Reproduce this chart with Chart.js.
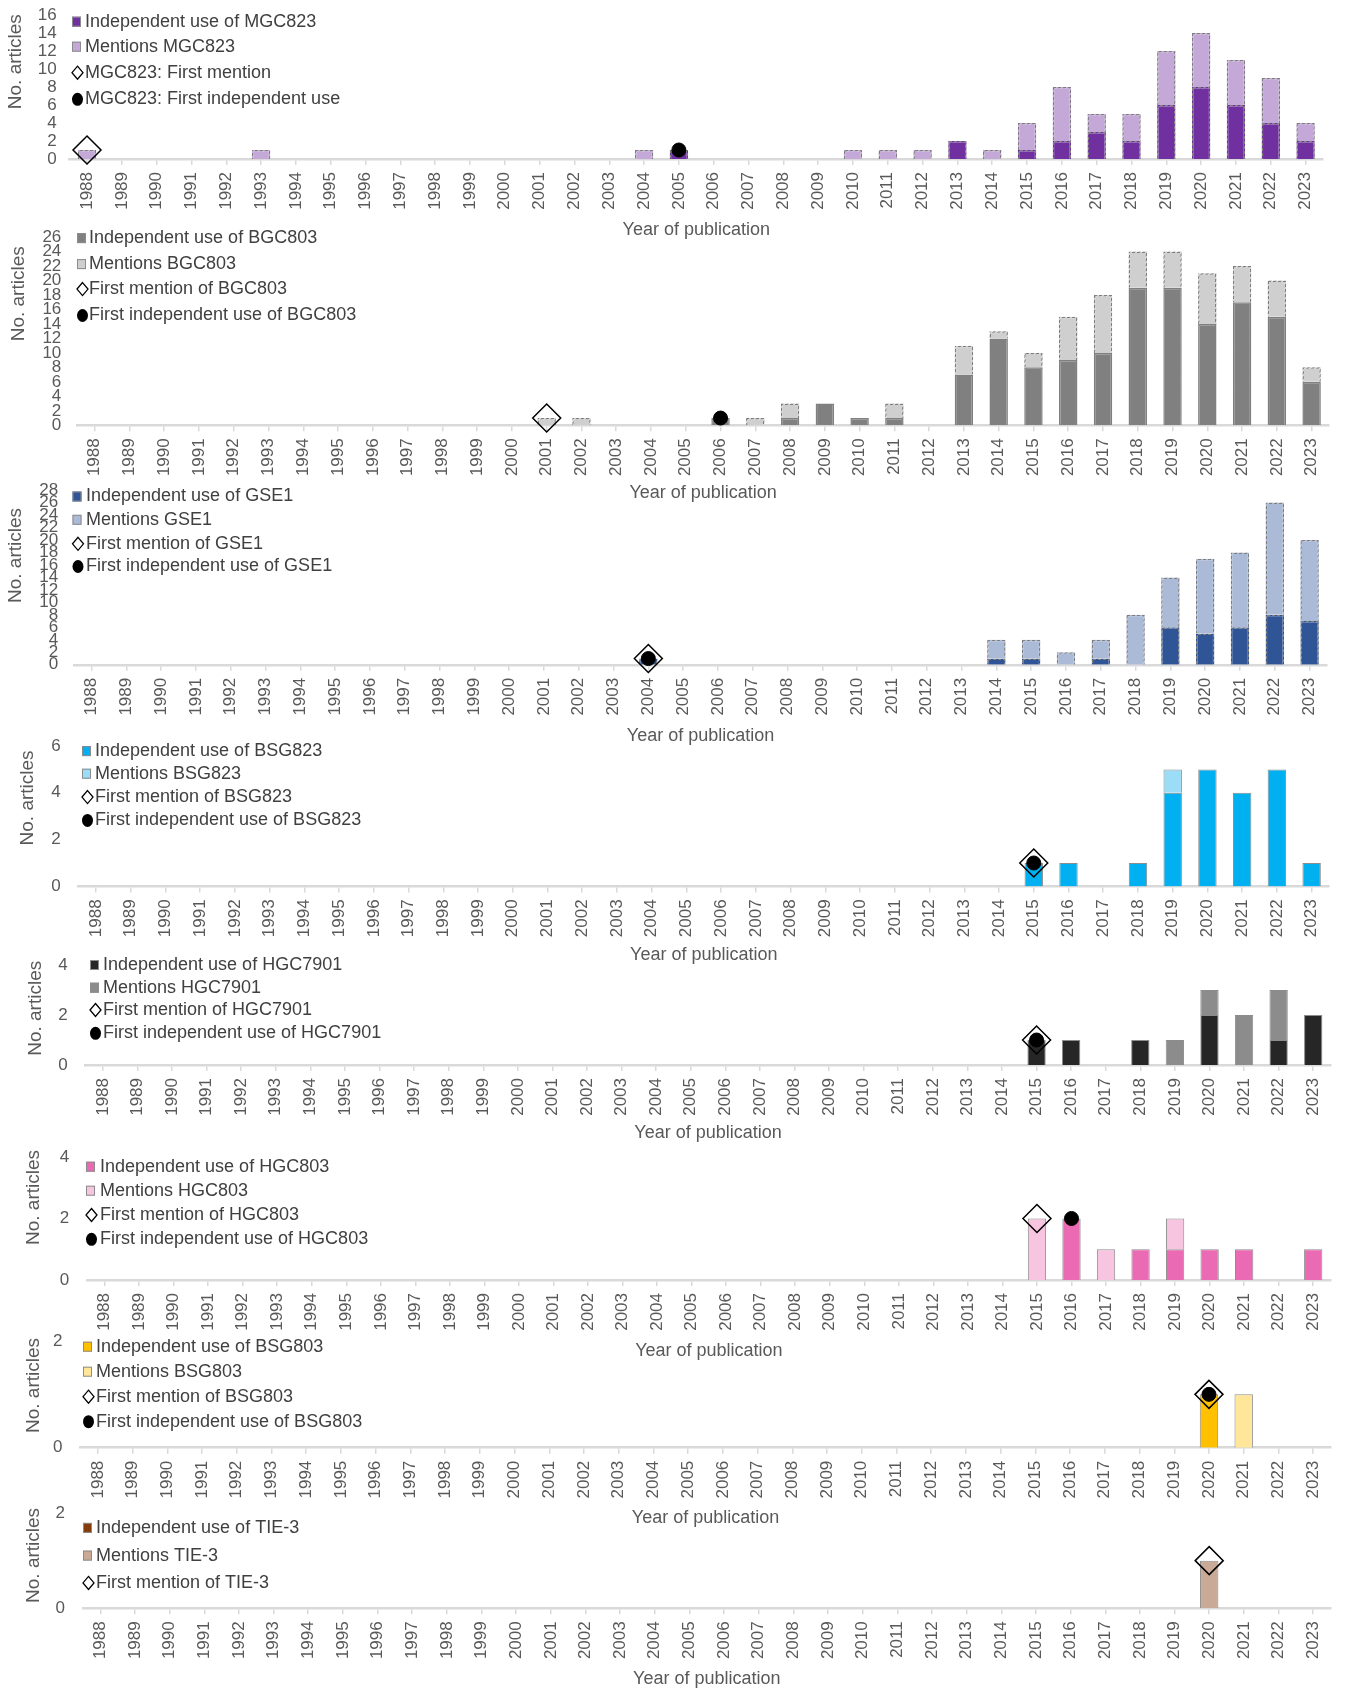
<!DOCTYPE html>
<html>
<head>
<meta charset="utf-8">
<script src="https://cdn.jsdelivr.net/npm/chart.js@4.4.1/dist/chart.umd.min.js"></script>
<style>
  html, body { margin: 0; padding: 0; background: #fff; }
  body { width: 1346px; height: 1690px; position: relative; overflow: hidden; }
  canvas { position: absolute; left: 0; }
</style>
</head>
<body>
<script>
// categories
const years = ['1988','1989','1990','1991','1992','1993','1994','1995','1996','1997','1998','1999',
  '2000','2001','2002','2003','2004','2005','2006','2007','2008','2009','2010','2011',
  '2012','2013','2014','2015','2016','2017','2018','2019','2020','2021','2022','2023'];

// MGC823
const mgcInd = [0,0,0,0,0,0,0,0,0,0,0,0, 0,0,0,0,0,1,0,0,0,0,0,0,0,2,0,1,2,3,2,6,8,6,4,2];
const mgcMen = [1,0,0,0,0,1,0,0,0,0,0,0, 0,0,0,0,1,0,0,0,0,0,1,1,1,0,1,3,6,2,3,6,6,5,5,2];
const mgcFirstMention = [{x: '1988', y: 1}];
const mgcFirstUse = [{x: '2005', y: 1}];

// BGC803
const bgcInd = [0,0,0,0,0,0,0,0,0,0,0,0, 0,0,0,0,0,0,1,0,1,3,1,1,0,7,12,8,9,10,19,19,14,17,15,6];
const bgcMen = [0,0,0,0,0,0,0,0,0,0,0,0, 0,1,1,0,0,0,0,1,2,0,0,2,0,4,1,2,6,8,5,5,7,5,5,2];
const bgcFirstMention = [{x: '2001', y: 1}];
const bgcFirstUse = [{x: '2006', y: 1}];

// GSE1
const gseInd = [0,0,0,0,0,0,0,0,0,0,0,0, 0,0,0,0,1,0,0,0,0,0,0,0,0,0,1,1,0,1,0,6,5,6,8,7];
const gseMen = [0,0,0,0,0,0,0,0,0,0,0,0, 0,0,0,0,0,0,0,0,0,0,0,0,0,0,3,3,2,3,8,8,12,12,18,13];
const gseFirstMention = [{x: '2004', y: 1}];
const gseFirstUse = [{x: '2004', y: 1}];

// BSG823
const bsg823Ind = [0,0,0,0,0,0,0,0,0,0,0,0, 0,0,0,0,0,0,0,0,0,0,0,0,0,0,0,1,1,0,1,4,5,4,5,1];
const bsg823Men = [0,0,0,0,0,0,0,0,0,0,0,0, 0,0,0,0,0,0,0,0,0,0,0,0,0,0,0,0,0,0,0,1,0,0,0,0];
const bsg823FirstMention = [{x: '2015', y: 1}];
const bsg823FirstUse = [{x: '2015', y: 1}];

// HGC7901
const hgc7901Ind = [0,0,0,0,0,0,0,0,0,0,0,0, 0,0,0,0,0,0,0,0,0,0,0,0,0,0,0,1,1,0,1,0,2,0,1,2];
const hgc7901Men = [0,0,0,0,0,0,0,0,0,0,0,0, 0,0,0,0,0,0,0,0,0,0,0,0,0,0,0,0,0,0,0,1,1,2,2,0];
const hgc7901FirstMention = [{x: '2015', y: 1}];
const hgc7901FirstUse = [{x: '2015', y: 1}];

// HGC803
const hgc803Ind = [0,0,0,0,0,0,0,0,0,0,0,0, 0,0,0,0,0,0,0,0,0,0,0,0,0,0,0,0,2,0,1,1,1,1,0,1];
const hgc803Men = [0,0,0,0,0,0,0,0,0,0,0,0, 0,0,0,0,0,0,0,0,0,0,0,0,0,0,0,2,0,1,0,1,0,0,0,0];
const hgc803FirstMention = [{x: '2015', y: 2}];
const hgc803FirstUse = [{x: '2016', y: 2}];

// BSG803
const bsg803Ind = [0,0,0,0,0,0,0,0,0,0,0,0, 0,0,0,0,0,0,0,0,0,0,0,0,0,0,0,0,0,0,0,0,1,0,0,0];
const bsg803Men = [0,0,0,0,0,0,0,0,0,0,0,0, 0,0,0,0,0,0,0,0,0,0,0,0,0,0,0,0,0,0,0,0,0,1,0,0];
const bsg803FirstMention = [{x: '2020', y: 1}];
const bsg803FirstUse = [{x: '2020', y: 1}];

// TIE-3
const tieInd = [0,0,0,0,0,0,0,0,0,0,0,0, 0,0,0,0,0,0,0,0,0,0,0,0,0,0,0,0,0,0,0,0,0,0,0,0];
const tieMen = [0,0,0,0,0,0,0,0,0,0,0,0, 0,0,0,0,0,0,0,0,0,0,0,0,0,0,0,0,0,0,0,0,1,0,0,0];
const tieFirstMention = [{x: '2020', y: 1}];

const FONT = '"Liberation Sans", Arial, sans-serif';
Chart.defaults.font.family = FONT;
Chart.defaults.font.size = 17;
Chart.defaults.color = '#595959';

// dashed-looking border: diagonal stripes show as dashes on every edge
function dashed(fill, line) {
  const c = document.createElement('canvas');
  c.width = 5; c.height = 5;
  const g = c.getContext('2d');
  g.fillStyle = fill;
  g.fillRect(0, 0, 5, 5);
  g.fillStyle = line;
  for (let x = 0; x < 5; x++) {
    for (let y = 0; y < 5; y++) {
      if ((x + y) % 5 < 3) g.fillRect(x, y, 1, 1);
    }
  }
  return g.createPattern(c, 'repeat');
}

const panels = [
  { ind: mgcInd, men: mgcMen, first: mgcFirstMention, use: mgcFirstUse,
    labels: ['Independent use of MGC823', 'Mentions MGC823', 'MGC823: First mention', 'MGC823: First independent use'],
    colors: ['#7030A0', '#C4A8D8'], dashed: true, yMax: 16,
    top: 15, bottom: 159, left: 69.6, right: 1323, title: 230, tickPad: 13,
    yTitle: [16, 61.7], iconX: 72, textX: 85, rows: [21.7, 46.7, 72.7, 99.3] },
  { ind: bgcInd, men: bgcMen, first: bgcFirstMention, use: bgcFirstUse,
    labels: ['Independent use of BGC803', 'Mentions BGC803', 'First mention of BGC803', 'First independent use of BGC803'],
    colors: ['#808080', '#CFCFCF'], dashed: true, yMax: 26,
    top: 237.2, bottom: 425.5, left: 77.3, right: 1329, title: 493, tickPad: 16,
    yTitle: [19, 294], iconX: 77, textX: 89, rows: [238.3, 264.3, 289.3, 315.7] },
  { ind: gseInd, men: gseMen, first: gseFirstMention, use: gseFirstUse,
    labels: ['Independent use of GSE1', 'Mentions GSE1', 'First mention of GSE1', 'First independent use of GSE1'],
    colors: ['#2F5597', '#ABBAD7'], dashed: true, yMax: 28,
    top: 489.5, bottom: 664.3, left: 74.1, right: 1327, title: 735, tickPad: 16,
    yTitle: [16, 555], iconX: 72.5, textX: 86, rows: [496, 519.3, 543.3, 566] },
  { ind: bsg823Ind, men: bsg823Men, first: bsg823FirstMention, use: bsg823FirstUse,
    labels: ['Independent use of BSG823', 'Mentions BSG823', 'First mention of BSG823', 'First independent use of BSG823'],
    colors: ['#00B0F0', '#9BDCF6'], dashed: false, yMax: 6,
    top: 745.6, bottom: 886, left: 78.6, right: 1329, title: 955, tickPad: 18,
    yTitle: [28, 797.5], iconX: 82, textX: 95, rows: [750.7, 773.3, 796.7, 820] },
  { ind: hgc7901Ind, men: hgc7901Men, first: hgc7901FirstMention, use: hgc7901FirstUse,
    labels: ['Independent use of HGC7901', 'Mentions HGC7901', 'First mention of HGC7901', 'First independent use of HGC7901'],
    colors: ['#262626', '#8C8C8C'], dashed: false, yMax: 4,
    top: 965, bottom: 1065, left: 85.6, right: 1336.7, title: 1133, tickPad: 18,
    yTitle: [36, 1008.3], iconX: 90, textX: 103, rows: [965, 987.7, 1010, 1033.3] },
  { ind: hgc803Ind, men: hgc803Men, first: hgc803FirstMention, use: hgc803FirstUse,
    labels: ['Independent use of HGC803', 'Mentions HGC803', 'First mention of HGC803', 'First independent use of HGC803'],
    colors: ['#EA6BB3', '#F7C5E0'], dashed: false, yMax: 4,
    top: 1157, bottom: 1280, left: 87.3, right: 1341.9, title: 1350.5, tickPad: 18,
    yTitle: [33.5, 1197.5], iconX: 86, textX: 100, rows: [1166.7, 1190.7, 1215, 1239.3] },
  { ind: bsg803Ind, men: bsg803Men, first: bsg803FirstMention, use: bsg803FirstUse,
    labels: ['Independent use of BSG803', 'Mentions BSG803', 'First mention of BSG803', 'First independent use of BSG803'],
    colors: ['#FFC000', '#FFE699'], dashed: false, yMax: 2,
    top: 1341, bottom: 1447.7, left: 80.5, right: 1330.7, title: 1518, tickPad: 18,
    yTitle: [34, 1385.5], iconX: 83, textX: 96, rows: [1346.7, 1371.7, 1396.7, 1421.7] },
  { ind: tieInd, men: tieMen, first: tieFirstMention, use: null,
    labels: ['Independent use of TIE-3', 'Mentions TIE-3', 'First mention of TIE-3'],
    colors: ['#843C0C', '#C9AA96'], dashed: false, yMax: 2,
    top: 1513.4, bottom: 1608.7, left: 83, right: 1335, title: 1679, tickPad: 18,
    yTitle: [33.5, 1555.8], iconX: 83, textX: 96, rows: [1528.3, 1556, 1583.3] }
];

// legend inside the plot + rotated y title
function decor(p, offset) {
  return {
    id: 'decor',
    afterDatasetsDraw(chart) {
      const ctx = chart.ctx;
      ctx.save();
      ctx.translate(p.yTitle[0], p.yTitle[1] - offset);
      ctx.rotate(-Math.PI / 2);
      ctx.font = '19px ' + FONT;
      ctx.fillStyle = '#595959';
      ctx.textAlign = 'center';
      ctx.textBaseline = 'middle';
      ctx.fillText('No. articles', 0, 0);
      ctx.restore();

      ctx.save();
      ctx.font = '18px ' + FONT;
      ctx.textBaseline = 'middle';
      ctx.textAlign = 'left';
      chart.data.datasets.forEach((ds, i) => {
        const y = p.rows[i] - offset;
        const x = p.iconX;
        if (ds.type === 'bar') {
          ctx.fillStyle = ds.backgroundColor;
          ctx.fillRect(x, y - 5, 9, 10);
          ctx.strokeStyle = '#8C8C8C';
          ctx.lineWidth = 1;
          ctx.strokeRect(x + 0.5, y - 4.5, 8, 9);
        } else if (ds.pointStyle === 'rectRot') {
          ctx.beginPath();
          ctx.moveTo(x + 5.5, y - 6.5);
          ctx.lineTo(x + 11, y);
          ctx.lineTo(x + 5.5, y + 6.5);
          ctx.lineTo(x, y);
          ctx.closePath();
          ctx.fillStyle = '#fff';
          ctx.fill();
          ctx.strokeStyle = '#000';
          ctx.lineWidth = 1.3;
          ctx.stroke();
        } else {
          ctx.beginPath();
          ctx.ellipse(x + 5.5, y, 5.5, 6.5, 0, 0, Math.PI * 2);
          ctx.fillStyle = '#000';
          ctx.fill();
        }
        ctx.fillStyle = '#404040';
        ctx.fillText(ds.label, p.textX, y);
      });
      ctx.restore();
    }
  };
}

panels.forEach((p) => {
  // the y scale asks for half a label plus its tick padding above the plot
  const padTop = p.tickPad + 12;
  const canvasTop = p.top - padTop;
  const canvasBottom = p.title + 13;
  const canvas = document.createElement('canvas');
  canvas.width = 1346;
  canvas.height = Math.round(canvasBottom - canvasTop);
  canvas.style.top = canvasTop + 'px';
  document.body.appendChild(canvas);
  const xHeight = canvas.height - padTop - (p.bottom - p.top);

  const bar = (label, data, color) => ({
    type: 'bar', label, data,
    backgroundColor: color,
    borderColor: p.dashed ? dashed(color, '#7F7F7F') : '#8C8C8C',
    borderWidth: p.dashed ? 1.5 : 1,
    stack: 'bars', order: 2,
    barPercentage: 0.53, categoryPercentage: 1,
    inflateAmount: 0
  });
  const datasets = [
    bar(p.labels[0], p.ind, p.colors[0]),
    bar(p.labels[1], p.men, p.colors[1]),
    { type: 'line', label: p.labels[2], data: p.first, showLine: false, clip: false,
      pointStyle: 'rectRot', pointRadius: 14, pointBorderWidth: 1.5,
      pointBackgroundColor: 'rgba(0,0,0,0)', pointBorderColor: '#000',
      stack: 'firstMention', order: 1 }
  ];
  if (p.use) {
    datasets.push({ type: 'line', label: p.labels[3], data: p.use, showLine: false, clip: false,
      pointStyle: 'circle', pointRadius: 7, pointBorderWidth: 1,
      pointBackgroundColor: '#000', pointBorderColor: '#000',
      stack: 'firstUse', order: 0 });
  }

  new Chart(canvas, {
    type: 'bar',
    data: { labels: years, datasets },
    options: {
      responsive: false,
      animation: false,
      events: [],
      layout: { padding: { top: padTop, left: 0, right: 1346 - p.right, bottom: 0 } },
      plugins: { legend: { display: false }, tooltip: { enabled: false } },
      scales: {
        x: {
          stacked: true,
          grid: { display: true, drawOnChartArea: false, offset: false, color: '#D9D9D9', lineWidth: 1.5, tickLength: 6 },
          border: { display: true, color: '#D9D9D9', width: 2.5 },
          ticks: { autoSkip: false, minRotation: 90, maxRotation: 90, padding: 7, color: '#595959', font: { size: 17 } },
          title: { display: true, text: 'Year of publication', color: '#595959', font: { size: 18 }, padding: { top: 0, bottom: 2.2 } },
          afterFit(s) { s.height = xHeight; }
        },
        y: {
          stacked: true,
          min: 0,
          max: p.yMax,
          grid: { display: false, drawTicks: false },
          border: { display: false },
          ticks: { stepSize: 2, autoSkip: false, padding: p.tickPad, color: '#595959', font: { size: 17 } },
          afterFit(s) { s.width = p.left; }
        }
      }
    },
    plugins: [decor(p, canvasTop)]
  });
});
</script>
</body>
</html>
